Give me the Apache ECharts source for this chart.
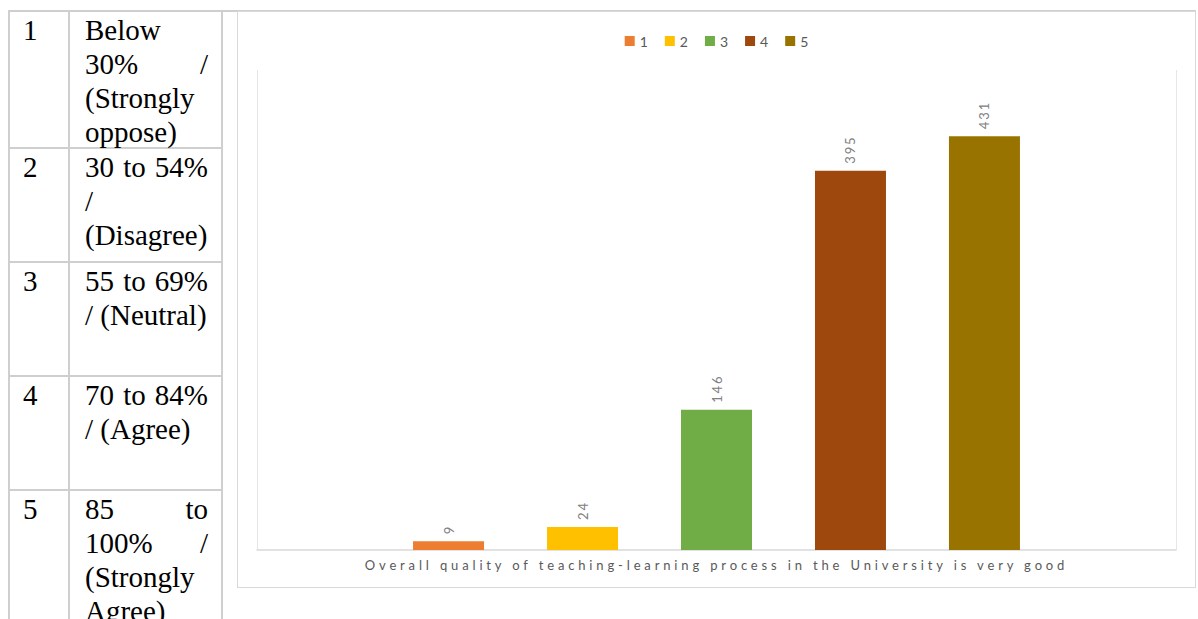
<!DOCTYPE html>
<html>
<head>
<meta charset="utf-8">
<script src="https://cdn.jsdelivr.net/npm/echarts@6/dist/echarts.min.js"></script>
<style>
  html, body { margin: 0; padding: 0; background: #fff; }
  body { width: 1198px; height: 619px; overflow: hidden; position: relative; }
  .cell {
    position: absolute; box-sizing: border-box;
    border-right: 2px solid #cfcfcf; border-bottom: 2px solid #cfcfcf;
    font-family: "Liberation Serif", serif; font-size: 29px; line-height: 34px;
    color: #000; padding-top: 1px;
  }
  .num { padding-left: 13px; }
  .desc { padding-left: 15px; padding-right: 13px; text-align: justify; }
  .topline { position: absolute; left: 8px; top: 10px; width: 1188px; height: 2px; background: #cfcfcf; }
  .leftline { position: absolute; left: 8px; top: 10px; width: 2px; height: 609px; background: #cfcfcf; }
  #frame { position: absolute; left: 237px; top: 11px; width: 959px; height: 577px;
           box-sizing: border-box; border: 1px solid #d9d9d9; background: #fff; }
  #chart { width: 957px; height: 575px; }
  #chart text { letter-spacing: 2px; }
  #chart text[fill="#595959"] { letter-spacing: 3.85px; }
  #chart text[fill="#808080"] { letter-spacing: 1.9px; }
</style>
</head>
<body>
<div id="scale"></div>
<div class="topline"></div>
<div class="leftline"></div>
<div id="frame"><div id="chart"></div></div>
<script>
// Rating scale shown beside the chart
const scaleCodes = ['1', '2', '3', '4', '5'];
const scaleTexts = [
  'Below 30% / (Strongly oppose)',
  '30 to 54% / (Disagree)',
  '55 to 69% / (Neutral)',
  '70 to 84% / (Agree)',
  '85 to 100% / (Strongly Agree)'
];

// Chart data
const categories = ['Overall quality of teaching-learning process in the University is very good'];
const seriesNames = ['1', '2', '3', '4', '5'];
const responseCounts = [9, 24, 146, 395, 431];

const palette = ['#ED7D31', '#FFC000', '#70AD47', '#9E480E', '#997300'];

// Build the scale table as positioned cells
const rowTops = [12, 149, 263, 377, 491];
const rowHeights = [137, 114, 114, 114, 137];
const holder = document.getElementById('scale');
scaleCodes.forEach((code, i) => {
  const a = document.createElement('div');
  a.className = 'cell num';
  a.style.cssText = `left:10px;top:${rowTops[i]}px;width:60px;height:${rowHeights[i]}px;`;
  a.textContent = code;
  const b = document.createElement('div');
  b.className = 'cell desc';
  b.style.cssText = `left:70px;top:${rowTops[i]}px;width:153px;height:${rowHeights[i]}px;`;
  b.textContent = scaleTexts[i];
  holder.appendChild(a);
  holder.appendChild(b);
});

const chart = echarts.init(document.getElementById('chart'), null, { renderer: 'svg' });
const font = 'Lato';

chart.setOption({
  animation: false,
  textStyle: { fontFamily: font },
  legend: {
    data: seriesNames,
    top: 17,
    left: 'center',
    icon: 'rect',
    itemWidth: 10,
    itemHeight: 10,
    itemGap: 17,
    textStyle: { color: '#595959', fontSize: 14, fontFamily: font }
  },
  grid: { left: 19, right: 19, top: 58, bottom: 37, containLabel: false },
  xAxis: {
    type: 'category',
    data: categories,
    axisTick: { show: false },
    axisLine: { lineStyle: { color: '#d9d9d9', width: 1.5 } },
    axisLabel: { color: '#595959', fontSize: 13, margin: 8, fontFamily: font },
    splitLine: { show: true, interval: 0, lineStyle: { color: '#e6e6e6', width: 1 } }
  },
  yAxis: { type: 'value', min: 0, max: 500, show: false },
  series: seriesNames.map((name, i) => ({
    name: name,
    type: 'bar',
    data: [responseCounts[i]],
    barWidth: 71,
    barGap: '88.7%',
    itemStyle: { color: palette[i] },
    label: {
      show: true,
      position: 'top',
      distance: 7,
      rotate: 90,
      align: 'left',
      verticalAlign: 'middle',
      color: '#808080',
      fontSize: 13,
      fontFamily: font
    }
  }))
});
</script>
</body>
</html>
